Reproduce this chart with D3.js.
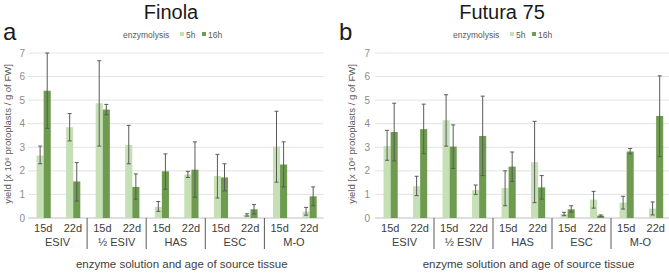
<!DOCTYPE html>
<html>
<head>
<meta charset="utf-8">
<script src="https://cdn.jsdelivr.net/npm/d3@7"></script>
<style>
  body { margin: 0; background: #fff; }
  text { font-family: "Liberation Sans", Arial, sans-serif; }
</style>
</head>
<body>
<div id="chart"></div>
<script>
const W = 669, H = 273;

const groups = ["ESIV", "½ ESIV", "HAS", "ESC", "M-O"];
const ages = ["15d", "22d"];
const series = ["5h", "16h"];
const yTicks = [0, 1, 2, 3, 4, 5, 6, 7];

// values per group/age: [5h, 16h], error bars as [low, high]
const finola5h   = [2.65, 3.85, 4.87, 3.10, 0.47, 1.85, 1.78, 0.13, 3.03, 0.27];
const finola5hLo = [2.30, 3.27, 3.05, 2.30, 0.28, 1.72, 0.85, 0.08, 1.52, 0.12];
const finola5hHi = [3.05, 4.43, 6.67, 3.93, 0.70, 1.98, 2.70, 0.18, 4.53, 0.45];
const finola16h   = [5.40, 1.55, 4.60, 1.32, 1.98, 2.05, 1.72, 0.37, 2.27, 0.92];
const finola16hLo = [3.80, 0.72, 4.38, 0.80, 1.22, 0.88, 1.15, 0.17, 1.32, 0.52];
const finola16hHi = [7.00, 2.35, 4.82, 1.87, 2.72, 3.23, 2.30, 0.57, 3.23, 1.32];

const futura5h   = [3.05, 1.35, 4.15, 1.18, 1.27, 2.37, 0.17, 0.78, 0.65, 0.40];
const futura5hLo = [2.45, 0.95, 3.05, 1.00, 0.52, 0.65, 0.10, 0.42, 0.38, 0.13];
const futura5hHi = [3.72, 1.77, 5.23, 1.40, 2.00, 4.10, 0.24, 1.13, 0.92, 0.68];
const futura16h   = [3.65, 3.77, 3.03, 3.48, 2.18, 1.30, 0.37, 0.10, 2.82, 4.33];
const futura16hLo = [2.42, 2.73, 2.10, 1.80, 1.55, 0.80, 0.25, 0.07, 2.72, 2.60];
const futura16hHi = [4.87, 4.83, 3.95, 5.17, 2.80, 1.80, 0.52, 0.13, 2.95, 6.03];

const color = d3.scaleOrdinal().domain(series).range(["#c5e0b4", "#6e9b50"]);

const svg = d3.select("#chart").append("svg")
  .attr("width", W).attr("height", H);

const panels = [
  { title: "Finola", letter: "a", x0: 28, x1: 323.5, titleX: 171, letterX: 3, legendX: 123, yTitleX: 8, tickX: 25,
    v5: finola5h, lo5: finola5hLo, hi5: finola5hHi, v16: finola16h, lo16: finola16hLo, hi16: finola16hHi },
  { title: "Futura 75", letter: "b", x0: 375, x1: 670, titleX: 502, letterX: 339, legendX: 453, yTitleX: 352, tickX: 370,
    v5: futura5h, lo5: futura5hLo, hi5: futura5hHi, v16: futura16h, lo16: futura16hLo, hi16: futura16hHi }
];

const y = d3.scaleLinear().domain([0, 7]).range([218, 53]);

panels.forEach(p => {
  const g = svg.append("g");
  const cats = [];
  groups.forEach(gr => ages.forEach(a => cats.push(gr + "|" + a)));

  const x = d3.scaleBand().domain(cats).range([p.x0, p.x1]);
  const bw = x.bandwidth();
  const xs = d3.scaleBand().domain(series).range([bw * 0.29, bw * 0.77]);

  // gridlines
  g.selectAll("line.grid").data(yTicks).join("line")
    .attr("x1", p.x0).attr("x2", p.x1)
    .attr("y1", d => y(d)).attr("y2", d => y(d))
    .attr("stroke", d => d === 0 ? "#bfbfbf" : "#e3e3e3")
    .attr("stroke-width", 1);

  // y tick labels
  g.selectAll("text.ytick").data(yTicks).join("text")
    .attr("x", p.tickX).attr("y", d => y(d) + 3.5)
    .attr("text-anchor", "end")
    .attr("font-size", 10).attr("fill", "#8c8c8c")
    .text(d => d);

  // y title
  g.append("text")
    .attr("transform", `translate(${p.yTitleX},134) rotate(-90)`)
    .attr("text-anchor", "middle").attr("dy", "0.35em")
    .attr("font-size", 9.5).attr("fill", "#595959")
    .text("yield  [x 10⁶ protoplasts / g of FW]");

  const rows = cats.map((c, i) => ({ cat: c, i }));
  const bars = [];
  rows.forEach(r => {
    bars.push({ cat: r.cat, s: "5h", v: p.v5[r.i], lo: p.lo5[r.i], hi: p.hi5[r.i] });
    bars.push({ cat: r.cat, s: "16h", v: p.v16[r.i], lo: p.lo16[r.i], hi: p.hi16[r.i] });
  });

  g.selectAll("rect.bar").data(bars).join("rect")
    .attr("x", d => x(d.cat) + xs(d.s))
    .attr("width", xs.bandwidth())
    .attr("y", d => y(d.v))
    .attr("height", d => y(0) - y(d.v))
    .attr("fill", d => color(d.s));

  // error bars
  const cx = d => x(d.cat) + xs(d.s) + xs.bandwidth() / 2;
  const eg = g.selectAll("g.err").data(bars).join("g").attr("stroke", "#5a5a5a").attr("stroke-width", 1);
  eg.append("line").attr("x1", cx).attr("x2", cx).attr("y1", d => y(d.lo)).attr("y2", d => y(d.hi));
  eg.append("line").attr("x1", d => cx(d) - 2).attr("x2", d => cx(d) + 2).attr("y1", d => y(d.lo)).attr("y2", d => y(d.lo));
  eg.append("line").attr("x1", d => cx(d) - 2).attr("x2", d => cx(d) + 2).attr("y1", d => y(d.hi)).attr("y2", d => y(d.hi));

  // age labels
  g.selectAll("text.age").data(cats).join("text")
    .attr("x", d => x(d) + bw / 2 + 0.5).attr("y", 232)
    .attr("text-anchor", "middle").attr("font-size", 11).attr("fill", "#404040")
    .text(d => d.split("|")[1]);

  // group labels
  g.selectAll("text.grp").data(groups).join("text")
    .attr("x", d => x(d + "|15d") + bw).attr("y", 246)
    .attr("text-anchor", "middle").attr("font-size", 11).attr("fill", "#404040")
    .text(d => d);

  // group separators
  g.selectAll("line.sep").data(groups.slice(1)).join("line")
    .attr("x1", d => x(d + "|15d")).attr("x2", d => x(d + "|15d"))
    .attr("y1", y(0)).attr("y2", 249)
    .attr("stroke", "#595959").attr("stroke-width", 1);

  // x title
  g.append("text")
    .attr("x", (p.x0 + p.x1) / 2 + 6).attr("y", 268)
    .attr("text-anchor", "middle").attr("font-size", 11.5).attr("fill", "#404040")
    .text("enzyme solution and age of source tissue");

  // title and panel letter
  g.append("text").attr("x", p.titleX).attr("y", 19)
    .attr("text-anchor", "middle").attr("font-size", 20).attr("fill", "#1a1a1a")
    .text(p.title);
  g.append("text").attr("x", p.letterX).attr("y", 40)
    .attr("font-size", 24).attr("fill", "#1a1a1a")
    .text(p.letter);

  // legend
  const lg = g.append("g").attr("transform", `translate(${p.legendX},38)`);
  lg.append("text").attr("x", 0).attr("y", 0).attr("font-size", 8.5).attr("fill", "#595959").text("enzymolysis");
  const items = lg.selectAll("g.item").data(series).join("g")
    .attr("transform", (d, i) => `translate(${57 + i * 22},0)`);
  items.append("rect").attr("x", 0).attr("y", -6).attr("width", 4).attr("height", 4).attr("fill", d => color(d));
  items.append("text").attr("x", 6).attr("y", 0).attr("font-size", 8.5).attr("fill", "#595959").text(d => d);
});
</script>
</body>
</html>
